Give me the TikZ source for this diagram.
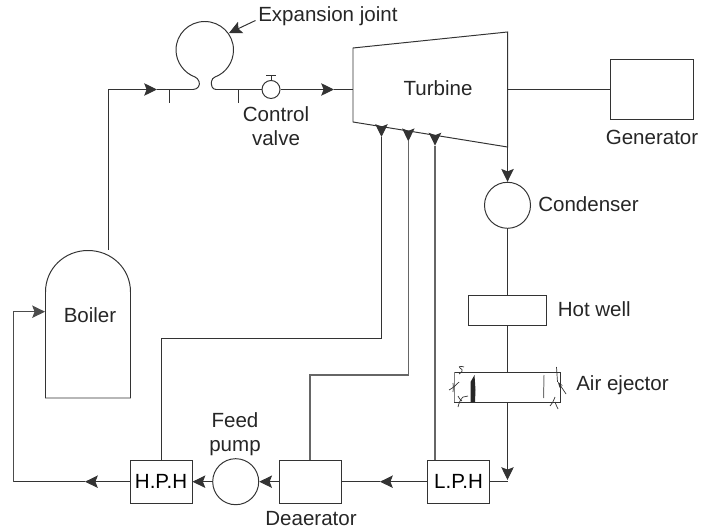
\documentclass[tikz,border=0pt]{standalone}
\usepackage{fontspec}
\setmainfont{Liberation Sans}
\usetikzlibrary{arrows.meta}

\begin{document}
\begin{tikzpicture}[
    x=0.025cm, y=-0.025cm,
    font=\fontsize{14.6}{17.5}\selectfont,
    >={Stealth[length=3.2mm, width=3.1mm, inset=0.6mm]},
    % --- Styles ---
    pipe/.style={draw=black!80, line width=0.7pt},
    pipe_gray/.style={draw=black!60, line width=0.8pt},
    arrow_flow/.style={->, draw=black!80, line width=0.7pt},
    unit_box/.style={draw=black!80, line width=0.7pt, minimum width=1.55cm, minimum height=1.085cm, inner sep=0pt},
    unit_circle/.style={circle, draw=black!80, line width=0.7pt, minimum size=1.15cm, inner sep=0pt},
    label_text/.style={align=center, text=black!85, inner sep=0pt},
    scribble/.style={draw=black!80, line width=0.5pt},
]
    \useasboundingbox (0,0) rectangle (701,530);

    % ==========================
    % 1. BOILER AND MAIN STEAM PIPE
    % ==========================
    \draw[pipe] (45.5,398) -- (45.5,292) .. controls (45.5,268.5) and (64.5,250.5) .. (88,250.5)
        .. controls (111.5,250.5) and (130.5,268.5) .. (130.5,292) -- (130.5,398) -- cycle;
    \node[label_text] (boiler) at (90,315) {Boiler};
    \coordinate (boiler_out) at (108,250);
    \coordinate (boiler_in) at (45,311.7);

    \coordinate (steam_tip) at (157,89.5);
    \coordinate (neck_l) at (193,89.5);
    \coordinate (neck_r) at (216,89.5);
    \draw[arrow_flow] (boiler_out) |- (steam_tip);
    \draw[pipe] (steam_tip) -- (neck_l);

    % Expansion loop
    \draw[pipe] (neck_l) .. controls (198,89.5) and (200.5,85) .. (199,81.5)
        .. controls (198,79) and (197,78) .. (195,77)
        .. controls (184,73) and (176,62) .. (176,50)
        .. controls (176,34) and (189,21.5) .. (204.7,21.5)
        .. controls (220.5,21.5) and (233.5,34) .. (233.5,50)
        .. controls (233.5,62) and (226,73) .. (215,77)
        .. controls (213,78) and (212,79) .. (211.5,81.5)
        .. controls (211,85) and (212,89.5) .. (neck_r);
    \node[label_text, anchor=west] (joint_label) at (258,16) {Expansion joint};
    \coordinate (joint_tail) at (255.5,20.5);
    \coordinate (joint_tip) at (229,33);
    \draw[arrow_flow] (joint_tail) -- (joint_tip);

    % Flange ticks
    \coordinate (tick_a) at (169,89.5);
    \coordinate (tick_b) at (238,89.5);
    \draw[pipe] (tick_a) -- ++(0,13.5);
    \draw[pipe] (tick_b) -- ++(0,13.5);

    % Control valve
    \node[unit_circle, minimum size=0.45cm] (valve) at (271,89.5) {};
    \coordinate (valve_top) at (271,75.5);
    \draw[pipe] (valve.north) -- (valve_top);
    \draw[pipe] (266,75.5) -- (276,75.5);
    \draw[pipe] (neck_r) -- (valve.west);
    \node[label_text] (valve_label) at (276,126) {Control\\valve};

    % ==========================
    % 2. TURBINE AND GENERATOR
    % ==========================
    \coordinate (t_nw) at (353,48);
    \coordinate (t_ne) at (507.5,32);
    \coordinate (t_se) at (507.5,147);
    \coordinate (t_sw) at (353,122);
    \draw[pipe] (t_nw) -- (t_ne) -- (t_se) -- (t_sw) -- cycle;
    \node[label_text] (turbine) at (438,88) {Turbine};

    \coordinate (inlet_tip) at (334,89.5);
    \coordinate (inlet) at (353,89.5);
    \coordinate (outlet) at (507.5,89.5);
    \draw[arrow_flow] (valve.east) -- (inlet_tip);
    \draw[pipe] (inlet_tip) -- (inlet);

    \node[unit_box, minimum width=2.075cm, minimum height=1.475cm] (generator) at (651.5,89.5) {};
    \node[label_text] (generator_label) at (652,137) {Generator};
    \draw[pipe] (outlet) -- (generator.west);

    % ==========================
    % 3. CONDENSATE LINE (Right)
    % ==========================
    \node[unit_circle] (condenser) at (507.5,205.3) {};
    \node[label_text, anchor=west] (condenser_label) at (538,204) {Condenser};
    \draw[arrow_flow] (t_se) -- (condenser.north);

    \node[unit_box, minimum width=1.96cm, minimum height=0.75cm] (hotwell) at (507.5,310) {};
    \node[label_text, anchor=west] (hotwell_label) at (557.5,309) {Hot well};
    \draw[pipe] (condenser.south) -- (hotwell.north);

    \node[unit_box, minimum width=2.65cm, minimum height=0.75cm] (ejector) at (507.5,387) {};
    \node[label_text, anchor=west] (ejector_label) at (576,385) {Air ejector};
    \draw[pipe] (hotwell.south) -- (ejector.north);

    % Pen marks on the ejector
    \fill[black!85] (474.5,375) -- (470.5,382) -- (470.5,402) -- (475,402) -- (475.5,390) -- cycle;
    \draw[black!55, line width=0.7pt] (544,375) -- (543.5,398);
    \draw[black!50, line width=0.7pt] (454,372) -- (454,402);
    \draw[scribble] (459,374) .. controls (462,372) and (464,370) .. (460,368) .. controls (458,366) and (461,366) .. (464,367);
    \draw[scribble] (449,390) .. controls (453,388) and (456,385) .. (459,382);
    \draw[scribble] (453,383) .. controls (453,386) and (454,389) .. (453,392);
    \draw[scribble] (458,407) .. controls (459,403) and (460,400) .. (463,397) .. controls (465,396) and (467,397) .. (468,396);
    \draw[scribble] (458,396) .. controls (459,398) and (460,400) .. (462,401);
    \draw[scribble] (550,406) .. controls (552,404) and (553,402) .. (555,397);
    \draw[scribble] (555,402) .. controls (556,405) and (557,407) .. (558,409);
    \draw[scribble] (556.5,367) -- (557.5,382);
    \draw[scribble, ->, >={Stealth[length=1.4mm, width=1mm]}] (566,394) -- (558,382);

    \coordinate (cond_tip) at (507.5,480);
    \coordinate (cond_turn) at (507.5,481.7);
    \draw[arrow_flow] (ejector.south) -- (cond_tip);

    % ==========================
    % 4. FEED LINE (Bottom)
    % ==========================
    \node[unit_box] (lph) at (458.5,481.7) {L.P.H};
    \node[unit_box] (deaerator) at (310,481.7) {};
    \node[label_text] (deaerator_label) at (311,519) {Deaerator};
    \node[unit_circle] (pump) at (235.7,481.7) {};
    \node[label_text] (pump_label) at (235,434) {Feed\\pump};
    \node[unit_box] (hph) at (161,481.7) {H.P.H};

    \coordinate (lph_tip) at (380,481.7);
    \coordinate (hph_tip) at (85,481.7);
    \coordinate (feed_corner) at (13,481.7);
    \draw[pipe] (cond_turn) -- (lph.east);
    \draw[arrow_flow] (lph.west) -- (lph_tip);
    \draw[pipe] (lph_tip) -- (deaerator.east);
    \draw[arrow_flow] (deaerator.west) -- (pump.east);
    \draw[arrow_flow] (pump.west) -- (hph.east);
    \draw[arrow_flow] (hph.west) -- (hph_tip);
    \draw[pipe] (hph_tip) -- (feed_corner);
    \draw[arrow_flow, draw=black!70] (feed_corner) |- (boiler_in);

    % ==========================
    % 5. BLEED LINES
    % ==========================
    \coordinate (bleed_a) at (381.5,126.7);
    \coordinate (bleed_b) at (408.3,131);
    \coordinate (bleed_c) at (435,135.3);
    \coordinate (tip_a) at (381.5,137);
    \coordinate (tip_b) at (408.3,141.3);
    \coordinate (tip_c) at (435,145.6);
    \coordinate (corner_a) at (381.5,338);
    \coordinate (corner_b) at (408.3,375);
    \draw[arrow_flow] (bleed_a) -- (tip_a);
    \draw[arrow_flow] (bleed_b) -- (tip_b);
    \draw[arrow_flow] (bleed_c) -- (tip_c);
    \draw[pipe] (tip_a) -- (corner_a) -| (hph.north);
    \draw[pipe_gray] (tip_b) -- (corner_b) -| (deaerator.north);
    \draw[pipe_gray] (tip_c) -- (tip_c |- lph.north);

\end{tikzpicture}
\end{document}
